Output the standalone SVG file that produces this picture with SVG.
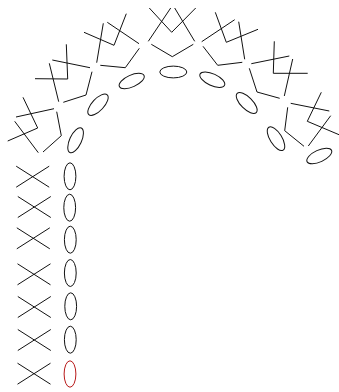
<svg xmlns="http://www.w3.org/2000/svg" width="339" height="392" viewBox="0 0 339 392">
<style>
.s{fill:none;stroke:#111;stroke-width:1}
.r{fill:none;stroke:#b81a1a;stroke-width:1}
</style>
<defs>
<g id="x"><path class="s" d="M-16.5-10.5L16.5 10.5M-16.5 10.5L16.5-10.5"/></g>
<ellipse id="o" class="s" rx="13.5" ry="5.9"/>
</defs>
<g id="arch-crosses">
<path class="s" d="M23 97.3L37.7 128L7.7 141M16 117L54 108.7M14.7 121.3L38.3 152.7M43 152L61.3 135.7L56.7 111.7"/>
<path class="s" d="M66.3 44.3L67.7 79L35 78.7M52.3 60L90 67.7M49.3 63.3L58.7 101.7M63.3 102.3L86 95L92 71.7"/>
<path class="s" d="M126.3 13.7L114 45.3L84 32.3M107.3 22.3L139 43.7M103.3 23.3L96.7 62.7M100.3 65.3L125.3 67.7L139.3 48.3"/>
<path class="s" d="M149.3 8L171.7 32.3L195.7 8M170.7 8L148.3 41.3M174.7 8L194.7 41.3M151.3 44.3L172.3 56.7L193.3 44.3"/>
<path class="s" d="M215.3 12.3L226.3 42.3L258 29.3M234.7 19.7L201.7 41.7M238.7 21.7L244.7 59.3M203 46.3L217.7 65.3L242.3 62.3"/>
<path class="s" d="M274.3 41.3L273.3 73.3L307.7 73.3M289.3 56L251.3 63.7M292.7 59L284.3 96M279.7 98.3L257 92L249.3 68.3"/>
<path class="s" d="M321.3 92.3L307.3 121.3L339 134.7M329.3 111L290.7 103.3M330.7 115.7L308.3 146M304 146.3L284.7 130.7L287.7 107.3"/>
</g>
<g id="arch-ellipses">
<use href="#o" transform="translate(75.6 140.3) rotate(-65)"/>
<use href="#o" transform="translate(98 104.7) rotate(-47)"/>
<use href="#o" transform="translate(131.7 81) rotate(-24)"/>
<use href="#o" transform="translate(173.3 72)"/>
<use href="#o" transform="translate(212.3 79.7) rotate(25)"/>
<use href="#o" transform="translate(246.7 103) rotate(45)"/>
<use href="#o" transform="translate(276 138.7) rotate(58)"/>
<use href="#o" transform="translate(319.3 156) rotate(-25)"/>
</g>
<g id="column-crosses">
<use href="#x" x="32.7" y="176.7"/>
<use href="#x" x="34.3" y="207"/>
<use href="#x" x="33.3" y="238.3"/>
<use href="#x" x="34" y="274.3"/>
<use href="#x" x="34.3" y="307"/>
<use href="#x" x="34.3" y="340"/>
<use href="#x" x="34" y="373.7"/>
</g>
<g id="column-ellipses">
<use href="#o" transform="translate(70 176.3) rotate(90)"/>
<use href="#o" transform="translate(69.7 207.7) rotate(90)"/>
<use href="#o" transform="translate(70.3 239.7) rotate(90)"/>
<use href="#o" transform="translate(70.3 273) rotate(90)"/>
<use href="#o" transform="translate(70.7 306.3) rotate(90)"/>
<use href="#o" transform="translate(70.3 339.7) rotate(90)"/>
<ellipse id="red-ellipse" class="r" cx="70" cy="374" rx="5.9" ry="13.2"/>
</g>
</svg>
